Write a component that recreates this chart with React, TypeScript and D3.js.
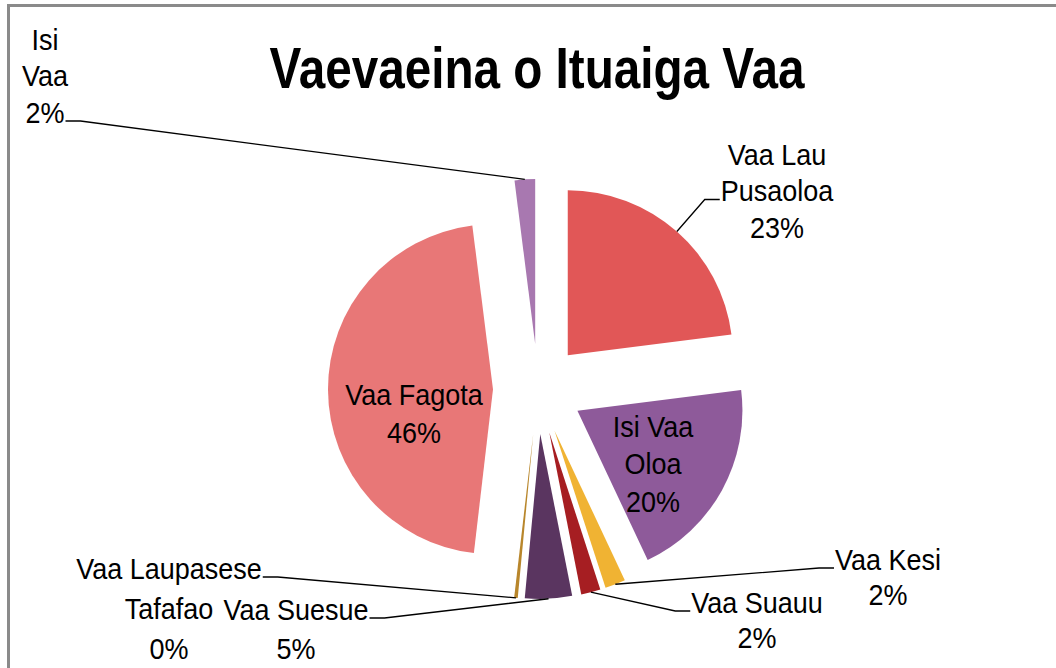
import React, { useEffect, useRef } from "react";
import * as d3 from "d3";

// ---- data ----
const categories = [
  "Vaa Lau Pusaoloa",
  "Isi Vaa Oloa",
  "Vaa Kesi",
  "Vaa Suauu",
  "Vaa Suesue",
  "Vaa Laupasese Tafafao",
  "Vaa Fagota",
  "Isi Vaa",
];
const values = [23, 20, 2, 1.9, 4.6, 0.35, 46.15, 2];
const labelLines = [
  ["Vaa Lau", "Pusaoloa"],
  ["Isi Vaa", "Oloa"],
  ["Vaa Kesi"],
  ["Vaa Suauu"],
  ["Vaa Suesue"],
  ["Vaa Laupasese", "Tafafao"],
  ["Vaa Fagota"],
  ["Isi", "Vaa"],
];
const colors = ["#E15757", "#8E5A9A", "#F0B333", "#A61E22", "#5A3560", "#B8862B", "#E87777", "#A878B0"];
const title = "Vaevaeina o Ituaiga Vaa";

// ---- layout ----
const W = 1056;
const H = 668;
const CX = 538;
const CY = 389;
const R = 165;
const EXPLODE = 45;
const SX = 0.9; // horizontal squeeze of label glyphs
// label placement: centre x, first baseline, line height, leader (line index, side)
const labelLayout = [
  { x: 777, y: 165, lh: 36.5, leader: { line: 1, side: "left" } },
  { x: 653, y: 437, lh: 37.5, leader: null },
  { x: 888, y: 570, lh: 35, leader: { line: 0, side: "left" } },
  { x: 757, y: 613, lh: 35, leader: { line: 0, side: "left" } },
  { x: 296, y: 620, lh: 39, leader: { line: 0, side: "right" } },
  { x: 169, y: 579, lh: 40, leader: { line: 0, side: "right" } },
  { x: 414, y: 405, lh: 38, leader: null },
  { x: 45, y: 50, lh: 36.5, leader: { line: 2, side: "right" } },
];

export default function App() {
  const ref = useRef<SVGSVGElement | null>(null);

  useEffect(() => {
    const svg = d3.select(ref.current);
    svg.selectAll("*").remove();

    svg.append("rect").attr("width", W).attr("height", H).attr("fill", "#fff");
    // frame
    svg
      .append("rect")
      .attr("x", 8.5)
      .attr("y", 5.5)
      .attr("width", W + 20)
      .attr("height", H + 20)
      .attr("fill", "none")
      .attr("stroke", "#8a8a8a")
      .attr("stroke-width", 3);

    svg
      .append("text")
      .attr("x", 537)
      .attr("y", 88)
      .attr("text-anchor", "middle")
      .attr("font-family", "'Liberation Sans Narrow', 'Arial Narrow', 'Liberation Sans', Arial, sans-serif")
      .attr("font-weight", "bold")
      .attr("font-size", 57)
      .attr("textLength", 535)
      .attr("lengthAdjust", "spacingAndGlyphs")
      .attr("fill", "#000")
      .text(title);

    const total = d3.sum(values);
    const pie = d3
      .pie<number>()
      .sort(null)
      .startAngle(0)
      .endAngle(2 * Math.PI)
      .value((d) => d);
    const arcs = pie(values);
    const arc = d3.arc<d3.PieArcDatum<number>>().innerRadius(0).outerRadius(R);
    const rim = d3.arc<d3.PieArcDatum<number>>().innerRadius(R + EXPLODE).outerRadius(R + EXPLODE);
    const off = d3.arc<d3.PieArcDatum<number>>().innerRadius(EXPLODE).outerRadius(EXPLODE);

    const g = svg.append("g").attr("transform", `translate(${CX},${CY})`);

    g.selectAll("path.slice")
      .data(arcs)
      .join("path")
      .attr("class", "slice")
      .attr("d", (d) => arc(d) as string)
      .attr("fill", (_d, i) => colors[i])
      .attr("transform", (d) => {
        const [ox, oy] = off.centroid(d);
        return `translate(${ox},${oy})`;
      })
      .append("title")
      .text((_d, i) => categories[i]);

    const font = "'Liberation Sans', Arial, sans-serif";
    const fs = 30;

    arcs.forEach((d, i) => {
      const L = labelLayout[i];
      const lines = [...labelLines[i], `${Math.round((values[i] / total) * 100)}%`];
      const nodes: SVGTextElement[] = [];
      const lg = svg
        .append("g")
        .attr("transform", `translate(${L.x},0) scale(${SX},1)`);
      lines.forEach((ln, k) => {
        const t = lg
          .append("text")
          .attr("x", 0)
          .attr("y", L.y + k * L.lh)
          .attr("text-anchor", "middle")
          .attr("font-family", font)
          .attr("font-size", fs)
          .attr("fill", "#000")
          .text(ln);
        nodes.push(t.node() as SVGTextElement);
      });
      if (L.leader) {
        const node = nodes[L.leader.line];
        const w = node.getComputedTextLength() * SX;
        const by = L.y + L.leader.line * L.lh - 2;
        const sign = L.leader.side === "left" ? -1 : 1;
        const ex = L.x + sign * (w / 2 + 1);
        const [px, py] = rim.centroid(d);
        const pts: [number, number][] = [
          [ex, by],
          [ex + sign * 15, by],
          [CX + px, CY + py],
        ];
        svg
          .append("path")
          .attr("d", d3.line()(pts) as string)
          .attr("fill", "none")
          .attr("stroke", "#000")
          .attr("stroke-width", 1.3);
      }
    });
  }, []);

  return (
    <svg
      ref={ref}
      width={W}
      height={H}
      style={{ position: "absolute", left: 0, top: 0, display: "block" }}
    />
  );
}
